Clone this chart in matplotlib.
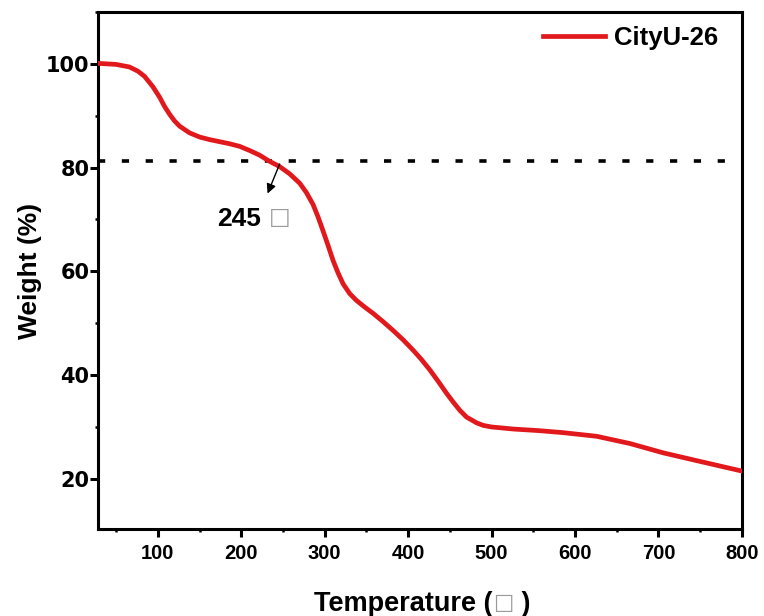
import matplotlib
matplotlib.use("Agg")
import matplotlib.pyplot as plt
from matplotlib.ticker import MultipleLocator

plt.rcParams['font.family'] = ['Liberation Sans', 'DejaVu Sans']
plt.rcParams['font.weight'] = 'bold'

temperature = [28, 50, 66, 76, 84, 94, 102, 108, 114, 120, 126, 138, 150, 162, 174, 186,
               198, 210, 222, 234, 246, 258, 270, 278, 286, 292, 298, 304, 310, 316, 322,
               330, 338, 348, 358, 370, 382, 394, 406, 416, 426, 436, 446, 454, 462, 470,
               482, 490, 500, 526, 556, 586, 626, 666, 706, 746, 800]
weight = [100.1, 99.9, 99.4, 98.6, 97.6, 95.6, 93.6, 91.8, 90.3, 89.0, 88.0, 86.7, 85.9,
          85.4, 85.0, 84.6, 84.1, 83.3, 82.4, 81.2, 80.2, 78.8, 77.0, 75.2, 72.9, 70.5,
          67.8, 65.0, 62.1, 59.7, 57.6, 55.7, 54.4, 53.1, 51.9, 50.3, 48.6, 46.8, 44.8,
          43.0, 41.0, 38.8, 36.5, 34.8, 33.2, 31.9, 30.8, 30.3, 30.0, 29.6, 29.3, 28.9,
          28.2, 26.8, 25.0, 23.5, 21.5]
series_name = "CityU-26"
threshold = 81.2
onset_temp = 245
onset_value = "245"
unit_glyph = "□"
x_label_parts = ["Temperature (", " )"]
y_label = "Weight (%)"
x_ticks = [100, 200, 300, 400, 500, 600, 700, 800]
y_ticks = [20, 40, 60, 80, 100]

fig = plt.figure(figsize=(7.64, 6.16), dpi=100)
ax = fig.add_axes([0.128, 0.141, 0.843, 0.8395])

ax.plot(temperature, weight, color='#E2191C', lw=3.4, label=series_name, zorder=3)
ax.axhline(threshold, color='black', lw=2.6, linestyle=(0, (2.0, 4.6)), zorder=2)

ax.annotate('', xy=(231.5, 75.0), xytext=(onset_temp + 1, threshold - 0.5),
            arrowprops=dict(arrowstyle='-|>', color='black', lw=1.0,
                            mutation_scale=14, shrinkA=0, shrinkB=0))
t245 = ax.text(171.6, 68.8, onset_value, fontsize=19, fontweight='bold',
               va='baseline', ha='left')
ax.annotate(unit_glyph, xy=(1, 0), xycoords=t245, xytext=(5.5, 1.5),
            textcoords='offset points', va='bottom', ha='left',
            fontsize=16.5, fontweight='normal', color='#9a9a9a',
            family=['DejaVu Sans'])

ax.set_xlim(28, 800)
ax.set_ylim(10.3, 110)
ax.xaxis.set_minor_locator(MultipleLocator(50))
ax.yaxis.set_minor_locator(MultipleLocator(10))
ax.set_xticks(x_ticks)
ax.set_yticks(y_ticks)

ax.tick_params(which='major', direction='out', length=6, width=2.2)
ax.tick_params(axis='x', which='major', labelsize=14.5, pad=5)
ax.tick_params(axis='y', which='major', labelsize=15, pad=0)
ax.tick_params(which='minor', direction='out', length=2.5, width=1.8)
ax.tick_params(top=False, right=False, which='both')
for lab in ax.get_xticklabels():
    lab.set_fontweight('bold')
for lab in ax.get_yticklabels():
    lab.set_fontweight('bold')
    lab.set_family(['DejaVu Sans'])
for s in ax.spines.values():
    s.set_linewidth(2.2)

ax.set_ylabel(y_label, fontsize=19, fontweight='bold', labelpad=3)

# x label built from parts so the unit glyph can be drawn in grey
xl1 = fig.text(314 / 764, (616 - 611) / 616, x_label_parts[0], fontsize=19.5,
               fontweight='bold', va='baseline', ha='left')
xl2 = ax.annotate(unit_glyph, xy=(1, 0), xycoords=xl1, xytext=(0.5, 3.0),
                  textcoords='offset points', va='bottom', ha='left',
                  fontsize=15.5, fontweight='normal', color='#9a9a9a',
                  family=['DejaVu Sans'], annotation_clip=False)
ax.annotate(x_label_parts[1], xy=(1, 0), xycoords=xl2, xytext=(0.5, -3.0),
            textcoords='offset points', va='bottom', ha='left',
            fontsize=19.5, fontweight='bold', annotation_clip=False)

leg = ax.legend(loc='upper right', bbox_to_anchor=(0.9627, 0.973), frameon=False,
                fontsize=18.5, handlelength=2.4, handletextpad=0.35,
                borderaxespad=0, borderpad=0)
for t in leg.get_texts():
    t.set_fontweight('bold')

fig.savefig('out.png', dpi=100)
